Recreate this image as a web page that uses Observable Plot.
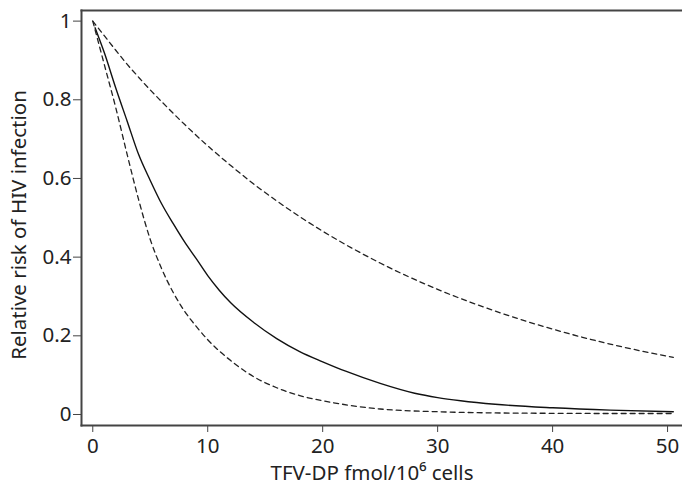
<!DOCTYPE html>
<html>
<head>
<meta charset="utf-8">
<script src="https://cdn.jsdelivr.net/npm/d3@7"></script>
<script src="https://cdn.jsdelivr.net/npm/@observablehq/plot@0.6"></script>
<style>
  html, body { margin: 0; padding: 0; background: #fff; overflow: hidden; }
</style>
</head>
<body>
<div id="chart"></div>
<script>
// Tick labels
const xTicks = [0, 10, 20, 30, 40, 50];
const yTicks = [0, 0.2, 0.4, 0.6, 0.8, 1];

// Upper dashed curve (upper bound)
const upperX = [0, 1, 2, 3, 4, 5, 6, 8, 10, 12, 14, 16, 18, 20, 25, 30, 35, 40, 45, 50.5];
const upperY = [1.0, 0.963, 0.926, 0.89, 0.857, 0.825, 0.795, 0.737, 0.683, 0.633, 0.586, 0.543, 0.503, 0.466, 0.385, 0.318, 0.263, 0.217, 0.179, 0.145];

// Solid curve (estimate)
const midX = [0.2, 1, 2, 3, 4, 5, 6, 7, 8, 9, 10, 11, 12, 14, 16, 18, 20, 22, 25, 28, 30, 32, 35, 40, 45, 50.5];
const midY = [0.983, 0.92, 0.83, 0.745, 0.66, 0.595, 0.535, 0.485, 0.438, 0.396, 0.353, 0.316, 0.284, 0.234, 0.193, 0.16, 0.134, 0.11, 0.079, 0.054, 0.043, 0.035, 0.026, 0.017, 0.011, 0.007];

// Lower dashed curve (lower bound)
const lowerX = [0, 1, 2, 3, 4, 5, 6, 7, 8, 9, 10, 12, 14, 16, 18, 20, 25, 30, 35, 40, 45, 50.5];
const lowerY = [1.0, 0.89, 0.78, 0.66, 0.545, 0.445, 0.37, 0.31, 0.262, 0.224, 0.19, 0.137, 0.096, 0.068, 0.048, 0.035, 0.014, 0.007, 0.004, 0.003, 0.0025, 0.0025];

const xLabel = "TFV-DP fmol/10\u2076 cells";
const yLabel = "Relative risk of HIV infection";

const toRows = (xs, ys) => xs.map((x, i) => ({x, y: ys[i]}));
const upper = toRows(upperX, upperY);
const mid = toRows(midX, midY);
const lower = toRows(lowerX, lowerY);

const font = "'Noto Sans', sans-serif";

const chart = Plot.plot({
  width: 682,
  height: 486,
  marginLeft: 81,
  marginRight: 0,
  marginTop: 10,
  marginBottom: 61,
  x: {domain: [-0.98, 51.3]},
  y: {domain: [-0.028, 1.027]},
  style: {fontFamily: font, fontSize: "20.5px", color: "#222", background: "#fff"},
  marks: [
    Plot.axisX({ticks: xTicks, tickSize: 7, tickPadding: 6, tickFormat: d => String(d), label: null, stroke: "#444", fill: "#222", fontSize: 20.5}),
    Plot.axisY({ticks: yTicks, tickSize: 8, tickPadding: 2, tickFormat: d => String(d), label: null, stroke: "#444", fill: "#222", fontSize: 20.5}),
    Plot.frame({anchor: "left", stroke: "#444", strokeWidth: 2}),
    Plot.frame({anchor: "bottom", stroke: "#444", strokeWidth: 2}),
    Plot.frame({anchor: "top", stroke: "#444", strokeWidth: 2}),
    Plot.line(upper, {x: "x", y: "y", stroke: "#222", strokeWidth: 1.3, strokeDasharray: "5,4", curve: "monotone-x"}),
    Plot.line(mid, {x: "x", y: "y", stroke: "#111", strokeWidth: 1.4, curve: "monotone-x"}),
    Plot.line(lower, {x: "x", y: "y", stroke: "#222", strokeWidth: 1.3, strokeDasharray: "5,4", curve: "monotone-x"}),
    Plot.text([xLabel], {frameAnchor: "bottom", dx: -10, dy: 47.5, text: d => d, fill: "#222", fontSize: 20.5, textAnchor: "middle", lineAnchor: "middle"}),
    Plot.text([yLabel], {frameAnchor: "left", dx: -62, dy: 7, rotate: -90, text: d => d, fill: "#222", fontSize: 20.5, textAnchor: "middle", lineAnchor: "middle"})
  ]
});

document.getElementById("chart").appendChild(chart);
</script>
</body>
</html>
